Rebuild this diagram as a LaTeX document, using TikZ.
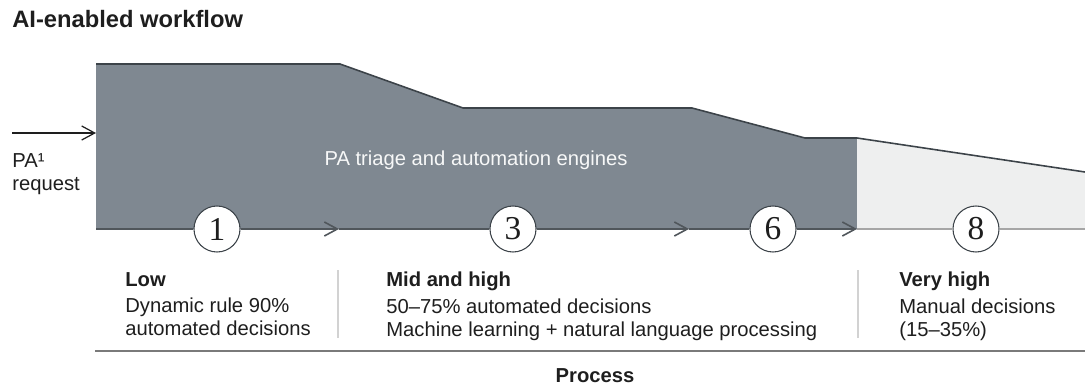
\documentclass[tikz,border=0pt]{standalone}
\usepackage{fontspec}
\setmainfont{Liberation Sans}
\newfontfamily\numfont{Liberation Serif}
\usetikzlibrary{arrows.meta}

\definecolor{engine}{HTML}{7F8891}
\definecolor{manual}{HTML}{EEEFEF}
\definecolor{edge}{HTML}{3C4349}
\definecolor{ink}{HTML}{1E1E1E}
\definecolor{rulegray}{HTML}{7A7A7A}
\definecolor{sepgray}{HTML}{D2D2D2}

\begin{document}
\begin{tikzpicture}[
  stage/.style={circle, draw=edge, fill=white, line width=0.6pt, minimum size=0.92cm, inner sep=0pt, font=\numfont\fontsize{19}{19}\selectfont, text=ink},
  outline/.style={edge, line width=0.9pt},
  flow/.style={edge!90, line width=0.9pt},
  tail/.style={black!35, line width=0.9pt},
  txt/.style={font=\fontsize{11.5}{13.1}\selectfont, text=ink, inner sep=0pt, align=left},
  head/.style={font=\bfseries\fontsize{11.5}{13.1}\selectfont, text=ink, inner sep=0pt},
  title/.style={font=\bfseries\fontsize{13.5}{15}\selectfont, text=ink, inner sep=0pt},
  >={Straight Barb[length=2.6mm,width=2.8mm]}
]

\useasboundingbox (0,0) rectangle (21.7,7.7);

% === Engine band (dark) and manual band (light) ===
\fill[engine] (1.92,3.12) -- (1.92,6.42) -- (6.80,6.42) -- (9.26,5.54) -- (13.84,5.54)
  -- (16.10,4.94) -- (17.14,4.94) -- (17.14,3.12) -- cycle;
\fill[manual] (17.14,3.12) -- (17.14,4.94) -- (21.70,4.26) -- (21.70,3.12) -- cycle;
\draw[outline] (1.92,6.42) -- (6.80,6.42) -- (9.26,5.54) -- (13.84,5.54)
  -- (16.10,4.94) -- (17.14,4.94) -- (21.70,4.26);

\node[title, anchor=base west] (title) at (0.24,7.14) {AI-enabled workflow};

% Incoming request
\coordinate (in) at (0.24,5.04);
\coordinate (band) at (1.92,5.04);
\draw[->, ink, line width=0.7pt] (in) -- (band);
\node[txt, anchor=north west] (req) at (0.24,4.64) {PA¹\\request};

\node[txt, text=white!94!engine, anchor=base] (engines) at (9.52,4.40) {PA triage and automation engines};

% === Stages along the process line ===
\coordinate (s0) at (1.92,3.12);
\node[stage] (c1) at (4.34,3.12) {1};
\coordinate (a1) at (6.78,3.12);
\node[stage] (c3) at (10.26,3.12) {3};
\coordinate (a2) at (13.78,3.12);
\node[stage] (c6) at (15.46,3.12) {6};
\coordinate (a3) at (17.14,3.12);
\node[stage] (c8) at (19.52,3.12) {8};
\coordinate (s9) at (21.70,3.12);

\draw[flow] (s0) -- (c1);
\draw[flow, ->] (c1) -- (a1);
\draw[flow] (a1) -- (c3);
\draw[flow, ->] (c3) -- (a2);
\draw[flow] (a2) -- (c6);
\draw[flow, ->] (c6) -- (a3);
\draw[tail] (a3) -- (c8);
\draw[tail] (c8) -- (s9);

% === Complexity levels ===
\node[txt, anchor=north west] (low) at (2.50,2.26) {\textbf{Low}\\[1.7pt]Dynamic rule 90\%\\automated decisions};
\node[txt, anchor=north west] (mid) at (7.72,2.26) {\textbf{Mid and high}\\[1.7pt]50–75\% automated decisions\\Machine learning + natural language processing};
\node[txt, anchor=north west] (vhigh) at (17.98,2.26) {\textbf{Very high}\\[1.7pt]Manual decisions\\(15–35\%)};

\draw[sepgray, line width=0.6pt] (6.76,2.30) -- (6.76,0.94);
\draw[sepgray, line width=0.6pt] (17.16,2.30) -- (17.16,0.94);

\draw[rulegray, line width=1.4pt] (1.90,0.68) -- (21.70,0.68);
\node[head, anchor=base] (proc) at (11.90,0.06) {Process};

\end{tikzpicture}
\end{document}
